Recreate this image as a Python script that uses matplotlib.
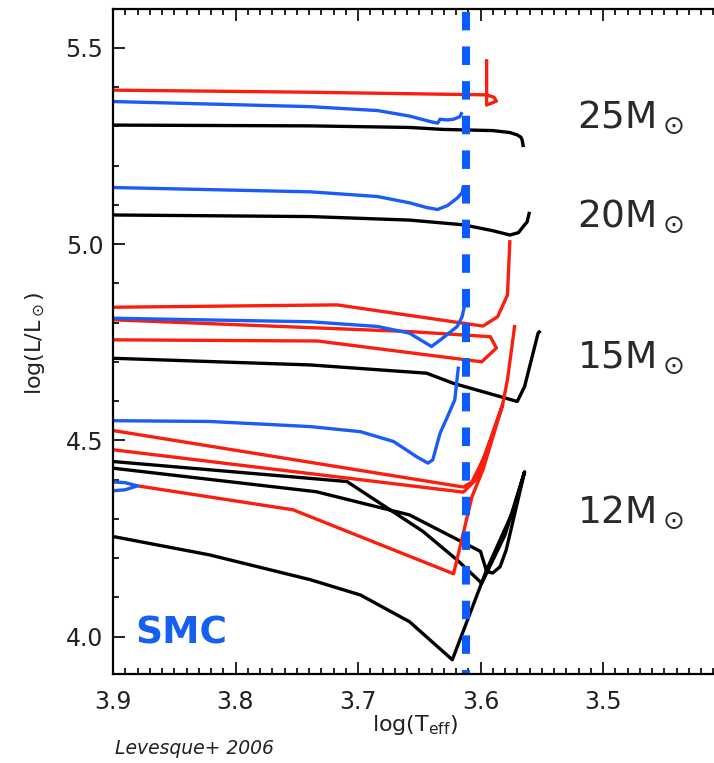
import matplotlib
matplotlib.use("Agg")
import matplotlib.pyplot as plt
from matplotlib.ticker import MultipleLocator

plt.rcParams['font.family'] = ['DejaVu Sans']
plt.rcParams['mathtext.fontset'] = 'dejavusans'

RED = '#fa1e0e'
BLUE = '#1a5cf5'
DASH_BLUE = '#0a5cff'
BLACK = '#000000'

# ---------------- data (log Teff, log L/Lsun) ----------------
# 25 Msun
m25_red_x = [3.900, 3.747, 3.595, 3.589, 3.587, 3.595, 3.595]
m25_red_y = [5.392, 5.387, 5.380, 5.374, 5.364, 5.354, 5.471]
m25_blue_x = [3.900, 3.739, 3.684, 3.658, 3.641, 3.635, 3.633, 3.627, 3.622, 3.617, 3.615]
m25_blue_y = [5.363, 5.350, 5.340, 5.326, 5.312, 5.308, 5.318, 5.316, 5.318, 5.324, 5.336]
m25_black_x = [3.900, 3.739, 3.658, 3.631, 3.590, 3.576, 3.570, 3.567, 3.566, 3.565]
m25_black_y = [5.303, 5.301, 5.297, 5.292, 5.289, 5.284, 5.278, 5.272, 5.265, 5.247]

# 20 Msun
m20_blue_x = [3.900, 3.739, 3.684, 3.658, 3.644, 3.635, 3.627, 3.619, 3.615, 3.614]
m20_blue_y = [5.144, 5.133, 5.121, 5.105, 5.093, 5.088, 5.098, 5.117, 5.131, 5.148]
m20_black_x = [3.900, 3.739, 3.658, 3.614, 3.590, 3.576, 3.569, 3.564, 3.562, 3.560]
m20_black_y = [5.074, 5.070, 5.061, 5.049, 5.034, 5.023, 5.029, 5.049, 5.056, 5.082]

# 15 Msun
m15_red1_x = [3.900, 3.717, 3.598, 3.586, 3.578, 3.576]
m15_red1_y = [4.839, 4.845, 4.791, 4.815, 4.870, 5.010]
m15_red2_x = [3.900, 3.658, 3.592, 3.587, 3.599, 3.733, 3.900]
m15_red2_y = [4.807, 4.777, 4.764, 4.735, 4.700, 4.753, 4.756]
m15_blue_x = [3.900, 3.739, 3.684, 3.658, 3.640, 3.631, 3.619, 3.615, 3.612]
m15_blue_y = [4.811, 4.802, 4.790, 4.773, 4.739, 4.760, 4.790, 4.815, 4.858]
m15_black_x = [3.900, 3.739, 3.644, 3.622, 3.570, 3.564, 3.553, 3.551]
m15_black_y = [4.709, 4.692, 4.671, 4.645, 4.599, 4.637, 4.773, 4.779]

# 12 Msun
m12_blue_x = [3.900, 3.821, 3.739, 3.698, 3.671, 3.652, 3.643, 3.639, 3.633, 3.627, 3.621, 3.618]
m12_blue_y = [4.550, 4.548, 4.535, 4.522, 4.497, 4.458, 4.442, 4.450, 4.518, 4.560, 4.603, 4.688]
m12_bluel_x = [3.910, 3.890, 3.880, 3.890, 3.910]
m12_bluel_y = [4.396, 4.392, 4.384, 4.374, 4.369]
m12_red_x = [3.880, 3.753, 3.622, 3.614, 3.607, 3.598, 3.582, 3.592, 3.604, 3.614, 3.900,
             3.950, 3.950, 3.900, 3.614, 3.607, 3.596, 3.582, 3.578, 3.572]
m12_red_y = [4.384, 4.323, 4.160, 4.264, 4.356, 4.425, 4.590, 4.501, 4.399, 4.368, 4.476,
             4.476, 4.525, 4.525, 4.381, 4.394, 4.463, 4.590, 4.654, 4.794]
m12_black_x = [3.900, 3.821, 3.739, 3.698, 3.658, 3.623, 3.595, 3.573, 3.564, 3.580, 3.599,
               3.619, 3.647, 3.709, 3.900, 3.950, 3.950, 3.900, 3.734, 3.658, 3.600,
               3.595, 3.590, 3.584, 3.579, 3.564]
m12_black_y = [4.255, 4.208, 4.145, 4.106, 4.038, 3.941, 4.170, 4.323, 4.420, 4.259, 4.136,
               4.195, 4.268, 4.395, 4.446, 4.446, 4.429, 4.429, 4.369, 4.310, 4.217,
               4.166, 4.162, 4.178, 4.221, 4.420]

teff_limit = 3.612

mass_labels = ['25', '20', '15', '12']
mass_label_y = [5.297, 5.043, 4.685, 4.290]

x_ticks = [3.9, 3.8, 3.7, 3.6, 3.5]
y_ticks = [4.0, 4.5, 5.0, 5.5]

# ---------------- figure ----------------
fig = plt.figure(figsize=(7.14, 7.63), dpi=100)
ax = fig.add_axes([113 / 714, 89.5 / 763, 612.5 / 714, 665 / 763])
ax.set_xlim(3.9, 3.4)
ax.set_ylim(3.906, 5.600)

lw = 2.4
kw = dict(lw=lw, solid_joinstyle='round', solid_capstyle='butt')
ax.plot(m25_black_x, m25_black_y, color=BLACK, **kw)
ax.plot(m20_black_x, m20_black_y, color=BLACK, **kw)
ax.plot(m15_black_x, m15_black_y, color=BLACK, **kw)
ax.plot(m12_black_x, m12_black_y, color=BLACK, **kw)
ax.plot(m25_red_x, m25_red_y, color=RED, **kw)
ax.plot(m15_red1_x, m15_red1_y, color=RED, **kw)
ax.plot(m15_red2_x, m15_red2_y, color=RED, **kw)
ax.plot(m12_red_x, m12_red_y, color=RED, **kw)
ax.plot(m25_blue_x, m25_blue_y, color=BLUE, **kw)
ax.plot(m20_blue_x, m20_blue_y, color=BLUE, **kw)
ax.plot(m15_blue_x, m15_blue_y, color=BLUE, **kw)
ax.plot(m12_blue_x, m12_blue_y, color=BLUE, **kw)
ax.plot(m12_bluel_x, m12_bluel_y, color=BLUE, **kw)

# dashed limit line
ax.plot([teff_limit, teff_limit], [3.906, 5.600], color=DASH_BLUE, lw=5.8,
        linestyle=(1.8, (2.3, 2.0)), solid_capstyle='butt', dash_capstyle='butt')

# labels
for m, yy in zip(mass_labels, mass_label_y):
    ax.text(3.521, yy, m + r'M$_\odot$', fontsize=27, color='#2a2a2a',
            ha='left', va='baseline')

ax.text(3.882, 3.982, 'SMC', fontsize=27, fontweight='bold', color='#1560f0',
        ha='left', va='baseline')

# axes styling
ax.set_xticks(x_ticks)
ax.set_xticklabels([f'{v:.1f}' for v in x_ticks])
ax.set_yticks(y_ticks)
ax.set_yticklabels([f'{v:.1f}' for v in y_ticks])
ax.xaxis.set_minor_locator(MultipleLocator(0.01))
ax.yaxis.set_minor_locator(MultipleLocator(0.1))
ax.tick_params(which='both', direction='in', top=True, right=True, width=1.3,
               colors='#111111', labelsize=17, labelcolor='#222222')
ax.tick_params(which='major', length=8.5)
ax.tick_params(which='minor', length=4)
ax.tick_params(axis='x', pad=12)
ax.tick_params(axis='y', pad=7)
for s in ax.spines.values():
    s.set_linewidth(1.6)

ax.set_xlabel(r'log(T$_{\rm eff}$)', fontsize=16, color='#222222')
ax.xaxis.set_label_coords((415 - 113) / 612.5, (673.5 - 713) / 665)
ax.set_ylabel(r'log(L/L$_\odot$)', fontsize=16, color='#222222')
ax.yaxis.set_label_coords((47 - 113) / 612.5, (673.5 - 343) / 665)

fig.text(115 / 714, 1 - 748 / 763, 'Levesque+ 2006', fontsize=13.5, style='italic',
         color='#222222', ha='left', va='center')

fig.savefig('out.png', dpi=100)
